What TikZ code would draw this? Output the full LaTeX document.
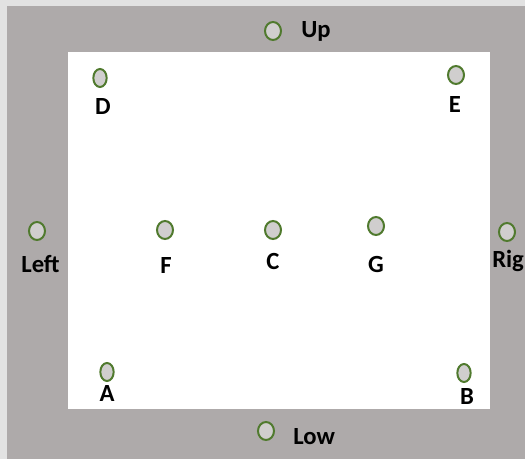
\documentclass[tikz,border=0pt]{standalone}
\usepackage{fontspec}
\setmainfont{Carlito}
\usetikzlibrary{shapes.geometric}
\definecolor{framegray}{HTML}{AEAAAA}
\definecolor{edgegray}{HTML}{E2E2E2}
\definecolor{dotgreen}{HTML}{507A2E}
\definecolor{dotfill}{HTML}{D0CECE}
\tikzset{
  dot/.style={ellipse, draw=dotgreen, fill=dotfill, line width=1.5pt, minimum width=12pt, minimum height=13.5pt, inner sep=0pt},
  ndot/.style={dot, minimum width=10pt},
  lbl/.style={font=\bfseries\fontsize{18.5}{20}\selectfont, inner sep=0pt, text=black, anchor=base}
}
\begin{document}
\begin{tikzpicture}[x=0.75pt, y=-0.75pt]
\useasboundingbox (0,0) rectangle (525,459);
\clip (0,0) rectangle (525,459);
\fill[edgegray] (0,0) rectangle (525,459);
\fill[framegray] (7,6) rectangle (525,459);
\fill[white] (68,52) rectangle (490,409);
% dots
\node[dot] (up) at (273,31) {};
\node[ndot] (d) at (100,78) {};
\node[dot] (e) at (456,75) {};
\node[dot] (left) at (37,231) {};
\node[dot] (f) at (165,230) {};
\node[dot] (c) at (273,230) {};
\node[dot] (g) at (376,226) {};
\node[dot] (right) at (507,232) {};
\node[ndot] (a) at (107,372) {};
\node[ndot] (b) at (464,373) {};
\node[dot] (low) at (266,431) {};
% labels
\node[lbl, anchor=base west] (tup) at (301,37.5) {Up};
\node[lbl] (td) at (103,115) {D};
\node[lbl] (te) at (455,113) {E};
\node[lbl] (tleft) at (40.5,273) {Left};
\node[lbl] (tf) at (166,274) {F};
\node[lbl] (tc) at (273,270) {C};
\node[lbl] (tg) at (376,273) {G};
\node[lbl, anchor=base west] (tright) at (492,268) {Right};
\node[lbl] (ta) at (107,402) {A};
\node[lbl] (tb) at (467,405) {B};
\node[lbl, anchor=base west] (tlow) at (293,444.5) {Low};
\end{tikzpicture}
\end{document}
